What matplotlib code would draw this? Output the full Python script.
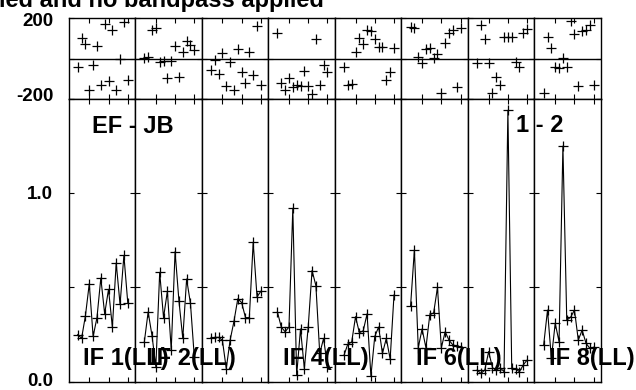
import matplotlib
matplotlib.use('Agg')
import matplotlib.pyplot as plt

plt.rcParams['font.family'] = ['Liberation Sans', 'DejaVu Sans']
plt.rcParams['font.weight'] = 'bold'

# ---------------- data ----------------
channels = list(range(2, 16))
if_labels = ["IF 1(LL)", "IF 2(LL)", "", "IF 4(LL)", "", "IF 6(LL)", "", "IF 8(LL)"]

amp_if1 = [0.25, 0.23, 0.35, 0.52, 0.24, 0.34, 0.55, 0.36, 0.49, 0.29, 0.63, 0.41, 0.67, 0.42]
amp_if2 = [0.21, 0.37, 0.245, 0.08, 0.58, 0.34, 0.48, 0.17, 0.69, 0.43, 0.23, 0.545, 0.415, 0.13]
amp_if3 = [0.23, 0.235, 0.235, 0.22, 0.07, 0.22, 0.32, 0.44, 0.42, 0.34, 0.34, 0.74, 0.45, 0.48]
amp_if4 = [0.37, 0.29, 0.265, 0.29, 0.92, 0.035, 0.28, 0.07, 0.29, 0.59, 0.51, 0.15, 0.23, 0.08]
amp_if5 = [0.14, 0.20, 0.21, 0.345, 0.26, 0.27, 0.36, 0.03, 0.24, 0.29, 0.15, 0.23, 0.12, 0.46]
amp_if6 = [0.40, 0.70, 0.18, 0.28, 0.18, 0.355, 0.365, 0.50, 0.18, 0.265, 0.22, 0.195, 0.19, 0.185]
amp_if7 = [0.062, 0.044, 0.062, 0.16, 0.074, 0.062, 0.074, 0.053, 1.44, 0.071, 0.069, 0.053, 0.089, 0.115]
amp_if8 = [0.195, 0.38, 0.124, 0.31, 0.212, 1.25, 0.327, 0.342, 0.38, 0.221, 0.274, 0.204, 0.177, 0.183]

phase_if1 = [-40, 100, 70, -156, -32, 63, -131, 169, -111, 141, -156, -4, 182, -106]
phase_if2 = [4, 9, 141, 149, -16, -12, -95, -12, 63, -90, 31, 86, 67, 42]
phase_if3 = [-57, -7, -78, 26, -134, -16, -156, 47, -65, -123, 34, -81, 162, -131]
phase_if4 = [124, -123, -156, -98, -139, -131, -134, -62, -134, -177, 96, -131, -32, -68]
phase_if5 = [-40, -131, -128, 34, 103, 70, 141, 136, 96, 58, 58, -106, -65, 50]
phase_if6 = [157, 152, 9, -24, 47, 50, 1, 21, -172, 75, 124, 141, -139, 149]
phase_if7 = [-24, 165, 96, -24, -172, -90, -131, 108, 108, 108, -16, -40, 124, 146]
phase_if8 = [-172, 108, 50, -40, -45, 4, -40, 185, 120, -134, 136, 141, 165, -131]

amps = [amp_if1, amp_if2, amp_if3, amp_if4, amp_if5, amp_if6, amp_if7, amp_if8]
phases = [phase_if1, phase_if2, phase_if3, phase_if4, phase_if5, phase_if6, phase_if7, phase_if8]

amp_ticks = [0.0, 0.5, 1.0, 1.5]
amp_ticklabels = {0.0: "0.0", 1.0: "1.0"}
phase_ticks = [-200, 0, 200]
phase_ticklabels = {200: "200", -200: "-200"}
chan_ticks = [5, 10, 15]
title_text = "ied and no bandpass applied"
baseline_text = "EF - JB"
stokes_text = "1 - 2"

# ---------------- layout ----------------
W, H = 636, 390
fig = plt.figure(figsize=(W / 100, H / 100), dpi=100)
left_px, right_px = 68.5, 601.0
ph_top, split, amp_bot = 18.0, 99.0, 381.7
pw = (right_px - left_px) / 8
xlim = (-0.4, 16.9)
tick_len = 3.6
ms, mew = 7.5, 0.9


def style(ax):
    for s in ax.spines.values():
        s.set_linewidth(1.0)
        s.set_color('black')
    ax.tick_params(direction='in', length=tick_len, width=0.8, top=True, right=True,
                   labelleft=False, labelbottom=False, colors='black')
    ax.set_xlim(*xlim)
    ax.set_xticks(chan_ticks)


for i in range(8):
    x0 = (left_px + i * pw) / W
    axp = fig.add_axes([x0, (H - split) / H, pw / W, (split - ph_top) / H])
    axa = fig.add_axes([x0, (H - amp_bot) / H, pw / W, (amp_bot - split) / H])
    style(axp)
    style(axa)
    axp.set_ylim(-200, 200)
    axp.set_yticks(phase_ticks)
    axp.axhline(0, color='black', lw=1.0)
    axp.plot(channels, phases[i], ls='none', marker='+', ms=ms, mew=mew, color='black')
    axa.set_ylim(0, 1.5)
    axa.set_yticks(amp_ticks)
    axa.plot(channels, amps[i], '-', lw=0.8, color='black', marker='+', ms=ms, mew=mew)
    if if_labels[i]:
        fig.text((left_px + i * pw + 14.5) / W, (H - 365) / H, if_labels[i],
                 fontsize=17, fontweight='bold', va='baseline', ha='left')
    if i == 0:
        for v, lab in amp_ticklabels.items():
            dy = 0.3 if v == 0.0 else -1.0
            axa.annotate(lab, xy=(0, v), xycoords=('axes fraction', 'data'),
                         xytext=(-11.2, dy), textcoords='offset points',
                         ha='right', va='center', fontsize=13.5, fontweight='bold')
        for v, lab in phase_ticklabels.items():
            dy = -2.4 if v > 0 else 2.0
            axp.annotate(lab, xy=(0, v), xycoords=('axes fraction', 'data'),
                         xytext=(-10.8, dy), textcoords='offset points',
                         ha='right', va='center', fontsize=13.5, fontweight='bold')

fig.text(-1 / W, (H - 7) / H, title_text, fontsize=17, fontweight='bold',
         ha='left', va='baseline')
fig.text(91.7 / W, (H - 133) / H, baseline_text, fontsize=17, fontweight='bold',
         ha='left', va='baseline')
fig.text(516 / W, (H - 132) / H, stokes_text, fontsize=17, fontweight='bold',
         ha='left', va='baseline')

fig.savefig('out.png', dpi=100)
